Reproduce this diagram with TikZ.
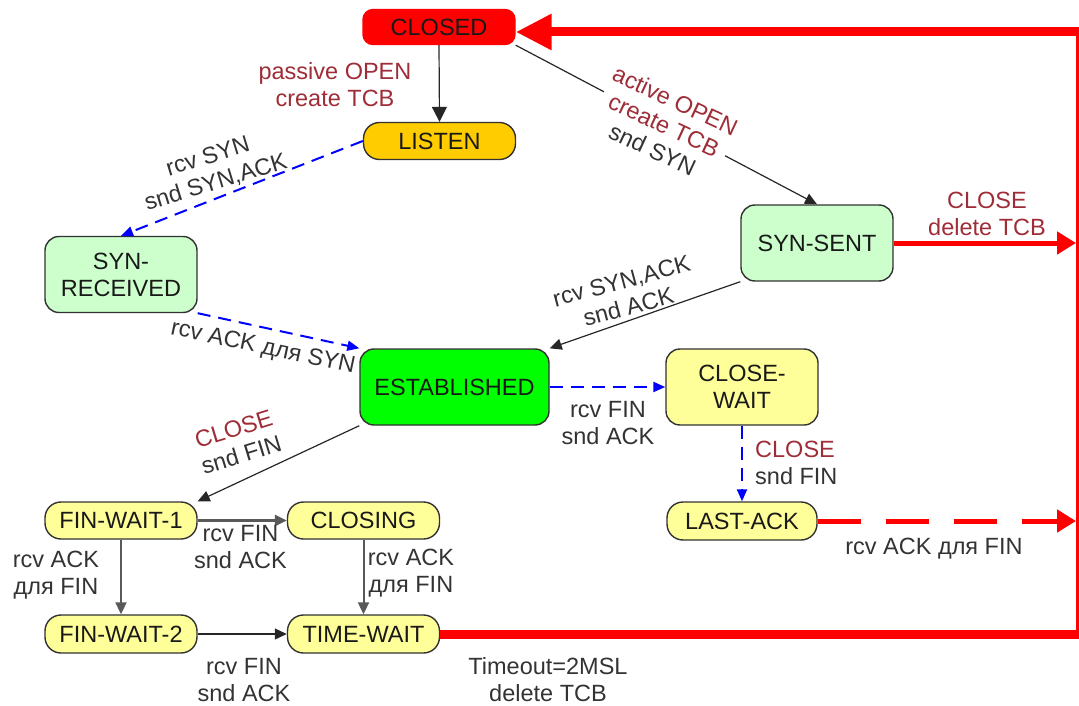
\documentclass[tikz,border=0pt]{standalone}
\usepackage{fontspec}
\setmainfont{Liberation Sans}
\usetikzlibrary{arrows.meta}

\definecolor{closedred}{RGB}{255,0,0}
\definecolor{listenorange}{RGB}{255,204,0}
\definecolor{palegreen}{RGB}{204,255,204}
\definecolor{brightgreen}{RGB}{0,255,0}
\definecolor{paleyellow}{RGB}{255,255,153}
\definecolor{evtred}{RGB}{158,45,55}
\definecolor{edgeblue}{RGB}{0,0,255}
\definecolor{boxline}{RGB}{50,50,50}

\begin{document}
\begin{tikzpicture}[x=1pt,y=-1pt,
  every node/.style={font=\fontsize{23.5}{27}\selectfont},
  state/.style={draw=boxline, line width=1.4pt, rounded corners=14pt, align=center,
                inner sep=2pt, text=black!90, minimum width=152pt},
  tallstate/.style={state, minimum height=76pt},
  slimstate/.style={state, minimum height=38pt, rounded corners=16pt},
  lbl/.style={align=center, inner sep=0pt, text=black!80},
  evt/.style={text=evtred},
  kedge/.style={draw=black!85, line width=1.2pt, -{Triangle[length=12pt,width=11pt]}},
  gedge/.style={draw=black!65, line width=2pt, -{Triangle[length=12pt,width=11pt]}},
  bedge/.style={draw=edgeblue, line width=2pt, dash pattern=on 13pt off 8pt,
                -{Triangle[length=12pt,width=10pt]}},
  redge/.style={draw=closedred, line width=5pt, -{Triangle[length=19pt,width=22pt]}},
]
\useasboundingbox (0,0) rectangle (1079,706);

% states
\node[state, fill=closedred, draw=closedred, minimum height=35pt, rounded corners=10pt]
  (closed) at (439,27) {CLOSED};
\node[slimstate, fill=listenorange, minimum height=37pt] (listen) at (439.5,141) {LISTEN};
\node[tallstate, fill=palegreen] (synrcvd) at (121,274.5) {SYN-\\RECEIVED};
\node[tallstate, fill=palegreen] (synsent) at (817,243) {SYN-SENT};
\node[tallstate, fill=brightgreen, minimum width=189pt] (estab) at (454.5,387) {ESTABLISHED};
\node[tallstate, fill=paleyellow] (closewait) at (742,387) {CLOSE-\\WAIT};
\node[slimstate, fill=paleyellow, minimum width=150pt] (lastack) at (742,521) {LAST-ACK};
\node[slimstate, fill=paleyellow, minimum height=37pt] (fw1) at (121,520.5) {FIN-WAIT-1};
\node[slimstate, fill=paleyellow, minimum height=37pt] (closing) at (363.5,520.5) {CLOSING};
\node[slimstate, fill=paleyellow] (fw2) at (121,634) {FIN-WAIT-2};
\node[slimstate, fill=paleyellow] (timewait) at (363.5,634) {TIME-WAIT};

% points on the return line to CLOSED
\coordinate (rtop) at (1080,32);
\coordinate (rbot) at (1080,634);
\coordinate (rsyn) at (1076,243);
\coordinate (rlast) at (1076,521);

% return line to CLOSED
\draw[draw=closedred, line width=9pt, line join=miter,
      -{Triangle[length=36pt,width=34pt]}]
  (timewait.east) -- (rbot) -- (rtop) -- (closed.east |- rtop);
\draw[redge] (synsent.east) -- (rsyn);
\draw[redge, dash pattern=on 43pt off 25pt] (lastack.east) -- (rlast);

% black transitions
\draw[kedge, -{Triangle[length=15pt,width=15pt]}] (closed.south) -- (listen.north);
\draw[kedge] (closed.south east) -- (synsent.north);
\draw[kedge] (synsent.south west) -- (estab.north east);
\draw[kedge] (estab.south west) -- (fw1.north east);
\draw[gedge, line width=2.6pt] (fw1.east) -- (closing.west);
\draw[gedge] (fw1.south) -- (fw2.north);
\draw[gedge] (closing.south) -- (timewait.north);
\draw[kedge] (fw2.east) -- (timewait.west);

% blue dashed transitions
\draw[bedge] (listen.west) -- (synrcvd.north);
\draw[bedge] (synrcvd.south east) -- (estab.north west);
\draw[bedge] (estab.east) -- (closewait.west);
\draw[bedge] (closewait.south) -- (lastack.north);

% transition labels
\node[lbl, evt] (lpassive) at (335,84.5) {passive OPEN\\create TCB};
\node[lbl, fill=white, rotate=-25, inner sep=1pt] (lactive) at (664,125)
  {\textcolor{evtred}{active OPEN}\\\textcolor{evtred}{create TCB}\\snd SYN};
\node[lbl, rotate=17] (lsynrcv) at (212,170) {rcv SYN\\snd SYN,ACK};
\node[lbl, rotate=15] (lsynack) at (625,294) {rcv SYN,ACK\\snd ACK};
\node[lbl, rotate=-12] (lacksyn) at (263,348) {rcv ACK для SYN};
\node[lbl, evt] (lclose1) at (987,214) {CLOSE\\delete TCB};
\node[lbl] (lfin1) at (608,423.5) {rcv FIN\\snd ACK};
\node[lbl, align=left, anchor=west] (lclose2) at (755,462.5)
  {\textcolor{evtred}{CLOSE}\\snd FIN};
\node[lbl, rotate=17] (lclose3) at (237.5,442) {\textcolor{evtred}{CLOSE}\\snd FIN};
\node[lbl] (lfin2) at (240.5,547.5) {rcv FIN\\snd ACK};
\node[lbl] (lackfin1) at (56,575.5) {rcv ACK\\для FIN};
\node[lbl] (lackfin2) at (411,573.5) {rcv ACK\\для FIN};
\node[lbl] (lfin3) at (244,680) {rcv FIN\\snd ACK};
\node[lbl] (ltimeout) at (548,680) {Timeout=2MSL\\delete TCB};
\node[lbl] (lackfin3) at (934,549) {rcv ACK для FIN};

\end{tikzpicture}
\end{document}
